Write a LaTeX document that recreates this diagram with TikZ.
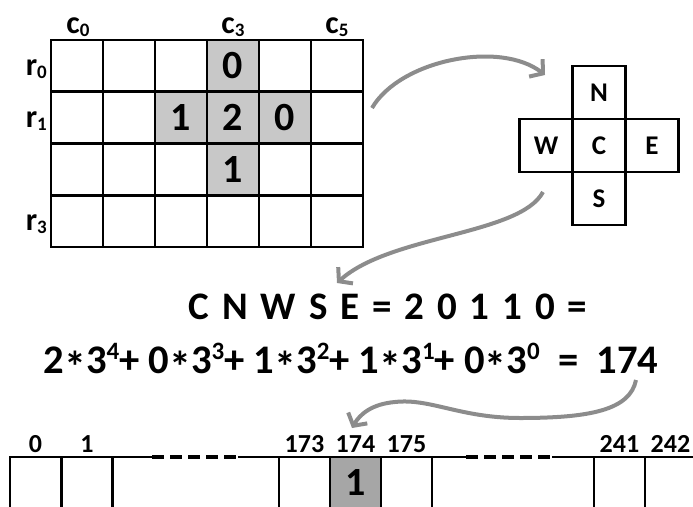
\documentclass[tikz,border=0pt]{standalone}
\usepackage{fontspec}
\setmainfont{Carlito}
\usetikzlibrary{arrows.meta}
\definecolor{cellgray}{HTML}{C8C8C8}
\definecolor{slotgray}{HTML}{A6A6A6}
\definecolor{arrowgray}{HTML}{8C8C8C}
\newcommand{\fsz}[1]{\fontsize{#1}{#1}\selectfont\bfseries}
\newcommand{\mulast}{\raisebox{-9pt}{\fsz{44}*}}
\newcommand{\pw}[1]{\raisebox{14pt}{\fsz{25}#1}}
\newcommand{\sbs}[1]{\raisebox{-3pt}{\fsz{19}#1}}
\newcommand{\gp}{\hspace{0.33em}}
\begin{document}
\begin{tikzpicture}[x=1pt,y=-1pt,
  cell/.style={draw, line width=2.6pt, minimum width=52pt, minimum height=51.75pt, inner sep=0pt, outer sep=0pt},
  dirbox/.style={draw, line width=2.6pt, minimum width=53pt, minimum height=53pt, inner sep=0pt, outer sep=0pt, font=\fsz{27}},
  slot/.style={draw, line width=2.6pt, minimum width=51pt, minimum height=52pt, inner sep=0pt, outer sep=0pt, font=\fsz{40}},
  digit/.style={inner sep=0pt, font=\fsz{40}},
  axlabel/.style={inner sep=0pt, font=\fsz{32}},
  idx/.style={inner sep=0pt, font=\fsz{26}, anchor=base},
  eq/.style={inner sep=0pt, font=\fsz{39}, anchor=base},
  eqb/.style={inner sep=0pt, font=\fsz{40.6}, anchor=base},
  flow/.style={draw=arrowgray, line width=4pt, -{Straight Barb[length=9pt,width=22pt]}},
  topline/.style={line width=2.6pt},
  dashline/.style={line width=3.4pt, dash pattern=on 12pt off 6pt},
  g03/.style={fill=cellgray}, g12/.style={fill=cellgray}, g13/.style={fill=cellgray},
  g14/.style={fill=cellgray}, g23/.style={fill=cellgray}]
\clip (0,0) rectangle (693,506);
% grid
\foreach \r in {0,...,3}{\foreach \c in {0,...,5}{
  \node[cell, g\r\c/.try] (g\r\c) at ({77+52*\c},{65.875+51.75*\r}) {};
}}
\node[digit] (d03) at (g03) {0};
\node[digit] (d12) at (g12) {1};
\node[digit] (d13) at (g13) {2};
\node[digit] (d14) at (g14) {0};
\node[digit] (d23) at (g23) {1};
\node[axlabel, anchor=base] (c0) at (78,33) {c\sbs{0}};
\node[axlabel, anchor=base] (c3) at (233,33) {c\sbs{3}};
\node[axlabel, anchor=base] (c5) at (337,33) {c\sbs{5}};
\node[axlabel, anchor=base east] (r0) at (47,75) {r\sbs{0}};
\node[axlabel, anchor=base east] (r1) at (47,127) {r\sbs{1}};
\node[axlabel, anchor=base east] (r3) at (47,230) {r\sbs{3}};
% cross
\node[dirbox] (N) at (599,92.5) {N};
\node[dirbox] (C) at (599,145.5) {C};
\node[dirbox] (W) at (546,145.5) {W};
\node[dirbox] (E) at (652,145.5) {E};
\node[dirbox] (S) at (599,198.5) {S};
% equations
\node[eq] (eq1) at (388,319) {C\gp N\gp W\gp S\gp E\gp =\gp 2\gp 0\gp 1\gp 1\gp 0\gp =};
\node[eqb] (eq2) at (351,373) {2\mulast3\pw{4}+ 0\mulast3\pw{3}+ 1\mulast3\pw{2}+ 1\mulast3\pw{1}+ 0\mulast3\pw{0} \ = \ 174};
% array
\node[slot] (a0) at (35.5,483) {};
\node[slot] (a1) at (87,483) {};
\node[slot] (a173) at (304.5,483) {};
\node[slot, fill=slotgray] (a174) at (355.5,483) {1};
\node[slot] (a175) at (406.5,483) {};
\node[slot] (a241) at (619.5,483) {};
\node[slot] (a242) at (670.5,483) {};
\coordinate (d1a) at (152,457);
\coordinate (d1b) at (238,457);
\coordinate (d2a) at (466,457);
\coordinate (d2b) at (552,457);
\draw[topline] (a1.north east) -- (d1a);
\draw[dashline] (d1a) -- (d1b);
\draw[topline] (d1b) -- (a173.north west);
\draw[topline] (a175.north east) -- (d2a);
\draw[dashline] (d2a) -- (d2b);
\draw[topline] (d2b) -- (a241.north west);
\node[idx] (l0) at (a0.center |- 0,452) {0};
\node[idx] (l1) at (a1.center |- 0,452) {1};
\node[idx] (l173) at (a173.center |- 0,452) {173};
\node[idx] (l174) at (a174.center |- 0,452) {174};
\node[idx] (l175) at (a175.center |- 0,452) {175};
\node[idx] (l241) at (a241.center |- 0,452) {241};
\node[idx] (l242) at (a242.center |- 0,452) {242};
% arrows
\coordinate (a1s) at (372,108);
\coordinate (a1e) at (545,75);
\coordinate (a2s) at (543,192);
\coordinate (a2e) at (337,283);
\coordinate (a3s) at (636,380);
\coordinate (a3e) at (352,428);
\draw[flow] (a1s) .. controls (400,60) and (500,40) .. (a1e);
\draw[flow] (a2s) .. controls (520,235) and (390,235) .. (a2e);
\draw[flow] (a3s) .. controls (630,410) and (590,418) .. (520,418)
  .. controls (460,418) and (430,398) .. (395,402)
  .. controls (372,404) and (360,414) .. (a3e);
\end{tikzpicture}
\end{document}
